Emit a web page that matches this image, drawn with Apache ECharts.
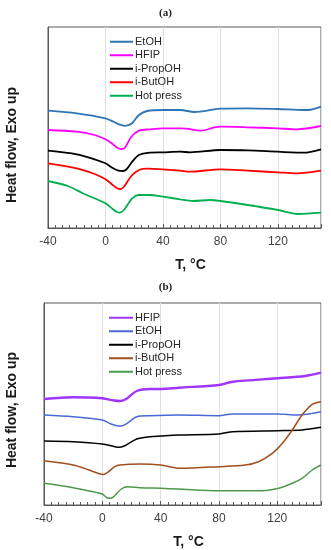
<!DOCTYPE html>
<html><head><meta charset="utf-8">
<script src="https://cdn.jsdelivr.net/npm/echarts@6/dist/echarts.min.js"></script>
<style>html,body{margin:0;padding:0;background:#fff}#c{width:331px;height:550px}</style>
</head><body><div id="c"></div>
<script>
// Panel (a) — [T in °C, heat flow (arbitrary units, exo up)]
const aEtOH = [[-40,117.3],[-20,114.7],[0,109.7],[6,106],[10,103.3],[13,102.2],[16,102.8],[19,105.5],[23.3,113],[29,117],[40,118],[52,118],[62,116],[80,119.3],[99,119.7],[120,119],[138,118],[141,118],[150,121.3]];
const aHFIP = [[-40,98],[-20,96.3],[-7.6,93],[0,88.7],[5,84],[8.5,80],[11,79],[13.5,80.3],[18,91.3],[23.3,97.3],[31,98.7],[40,99.7],[52,99.7],[56.5,99.3],[67,97.3],[75,100.3],[80,101.3],[99,100.7],[120,99.7],[133,98.7],[150,102]];
const aPropOH = [[-40,77.3],[-20,73.7],[-7.6,68.7],[0,64.7],[5,60],[9,57.3],[12,57],[14.5,58.5],[18.6,66.3],[23.3,73],[31,75.3],[40,75.7],[52,76.3],[59,75.7],[80,78],[99,77.7],[120,76.3],[138,75.3],[150,78.7]];
const aButOH = [[-40,64.7],[-20,59.7],[-7.6,54],[0,48.7],[5,43],[8.5,39.5],[10.5,39],[13,41.5],[18,52],[23.3,58],[29,59.3],[40,58.7],[52,57.3],[59,56.3],[80,58.7],[99,57.3],[120,55.7],[133,54.7],[150,57.3]];
const aHotPress = [[-40,47],[-26,42],[-15.8,34.7],[-7.6,29.7],[0,24.7],[5,19],[8,16],[10,15.4],[12.5,17.5],[18.6,29.7],[23,33],[31,33],[40,31.3],[52,28.7],[61,27],[73,28],[80,27],[99,23],[120,18],[134,14],[150,15.3]];

// Panel (b)
const bHFIP = [[-40,106],[-20,107.7],[0,106.7],[8,104.5],[12,104],[16,105.7],[23.6,114],[32.7,116],[40,116],[52.4,117.3],[80,120],[89.5,123.3],[120,126.7],[139,129],[150,132.3]];
const bEtOH = [[-40,90],[-20,88.3],[0,85],[6,81],[10,79.3],[13,79],[17,81.7],[23.6,88.3],[32.7,89.3],[52,90],[80,89.3],[89.5,91],[120,91],[134,90],[150,93.3]];
const bPropOH = [[-40,64],[-20,63.3],[0,61],[8,58.5],[11,57.7],[15,59],[23.6,66],[32.7,68.3],[40,69],[52,70],[80,71],[89.5,73.3],[120,74.3],[137,75],[150,77.7]];
const bButOH = [[-40,44.3],[-20,40],[-9,35],[-2,31.2],[0.8,30.6],[3.5,32.5],[8.5,38.3],[12,40],[25.8,41],[40,40],[53,36.7],[80,38.3],[98,40],[107,43.3],[116.6,51.7],[123.5,61.7],[130.3,75],[137,90],[144,100.7],[150,103.3]];
const bHotPress = [[-40,21.7],[-20,17.3],[-9,14],[0,11],[3,7.5],[5,6.7],[7.5,7.8],[13,16],[17.6,18.3],[25.8,17.3],[40,16.7],[52,16],[80,14.3],[109.7,14.3],[121,16.7],[130.3,21.7],[137,26.7],[144,35],[150,40]];

const xTicks = [-40, 0, 40, 80, 120];
const legendA = ['EtOH','HFIP','i-PropOH','i-ButOH','Hot press'];
const legendB = ['HFIP','EtOH','i-PropOH','i-ButOH','Hot press'];

const chart = echarts.init(document.getElementById('c'), null, {renderer:'canvas'});
const axisFont = 'Liberation Sans, Arial, sans-serif';

function xAxis(gi){
  return {
    type:'value', gridIndex:gi, min:xTicks[0], max:150, interval:40,
    name:'T, °C', nameLocation:'middle', nameGap: 30,
    nameTextStyle:{fontFamily:axisFont, fontSize:14, fontWeight:'bold', color:'#1a1a1a', padding:[0,0,0,12]},
    axisLine:{show:true, onZero:false, lineStyle:{color:'#595959', width:1}},
    axisTick:{show:true, inside:true, length:4, lineStyle:{color:'#595959'}},
    minorTick:{show:true, splitNumber:8, length:3, lineStyle:{color:'#595959'}},
    splitLine:{show:true, lineStyle:{color:'#e0e0e0', width:1}},
    axisLabel:{fontFamily:axisFont, fontSize:12, color:'#404040', margin:8, showMaxLabel:false}
  };
}
function yAxis(gi){
  return {
    type:'value', gridIndex:gi, min:0, max: gi===0 ? 201 : 202,
    axisLine:{show:true, onZero:false, lineStyle:{color:'#595959'}},
    axisTick:{show:false}, axisLabel:{show:false}, splitLine:{show:false}
  };
}
function line(name, data, color, gi, w){
  return {type:'line', name:name, data:data, xAxisIndex:gi, yAxisIndex:gi,
    showSymbol:false, symbol:'none', smooth:0.3, color:color,
    lineStyle:{color:color, width:w}};
}
const strip = n => n.split(':')[1];

chart.setOption({
  animation:false,
  title:[
    {text:'(a)', left:'center', top:3, textStyle:{fontFamily:'Liberation Serif, Times New Roman, serif', fontSize:11, fontWeight:'bold', color:'#222'}},
    {text:'(b)', left:'center', top:277, textStyle:{fontFamily:'Liberation Serif, Times New Roman, serif', fontSize:11, fontWeight:'bold', color:'#222'}}
  ],
  grid:[
    {left:48, top:27, width:273, height:201, show:true, borderColor:'#595959', borderWidth:1, backgroundColor:'transparent'},
    {left:44, top:303, width:277, height:202, show:true, borderColor:'#595959', borderWidth:1, backgroundColor:'transparent'}
  ],
  xAxis:[xAxis(0), xAxis(1)],
  yAxis:[yAxis(0), yAxis(1)],
  legend:[
    {data:legendA.map(n=>'a:'+n), formatter:strip, orient:'vertical', left:105, top:30, itemWidth:23, itemHeight:2, icon:'rect', itemGap:0,
     textStyle:{fontFamily:axisFont, fontSize:11, color:'#262626', lineHeight:13.5, padding:[0,0,0,-3]}, selectedMode:false},
    {data:legendB.map(n=>'b:'+n), formatter:strip, orient:'vertical', left:104, top:306, itemWidth:24, itemHeight:2, icon:'rect', itemGap:0,
     textStyle:{fontFamily:axisFont, fontSize:11, color:'#262626', lineHeight:13.5, padding:[0,0,0,-3]}, selectedMode:false}
  ],
  graphic:[
    {type:'text', x:12, y:145, rotation:Math.PI/2, style:{text:'Heat flow, Exo up', font:'bold 14px Liberation Sans, Arial, sans-serif', fill:'#1a1a1a', textAlign:'center', textVerticalAlign:'middle'}},
    {type:'text', x:12, y:410, rotation:Math.PI/2, style:{text:'Heat flow, Exo up', font:'bold 14px Liberation Sans, Arial, sans-serif', fill:'#1a1a1a', textAlign:'center', textVerticalAlign:'middle'}}
  ],
  series:[
    line('a:EtOH', aEtOH, '#2e75b6', 0, 1.8),
    line('a:HFIP', aHFIP, '#ff00ff', 0, 1.8),
    line('a:i-PropOH', aPropOH, '#000000', 0, 1.8),
    line('a:i-ButOH', aButOH, '#ff0000', 0, 1.8),
    line('a:Hot press', aHotPress, '#00b050', 0, 1.8),
    line('b:HFIP', bHFIP, '#a035ff', 1, 2.4),
    line('b:EtOH', bEtOH, '#4a68d6', 1, 1.5),
    line('b:i-PropOH', bPropOH, '#000000', 1, 1.5),
    line('b:i-ButOH', bButOH, '#a0501e', 1, 1.5),
    line('b:Hot press', bHotPress, '#4c9a4c', 1, 1.5)
  ]
});
</script>
</body></html>
